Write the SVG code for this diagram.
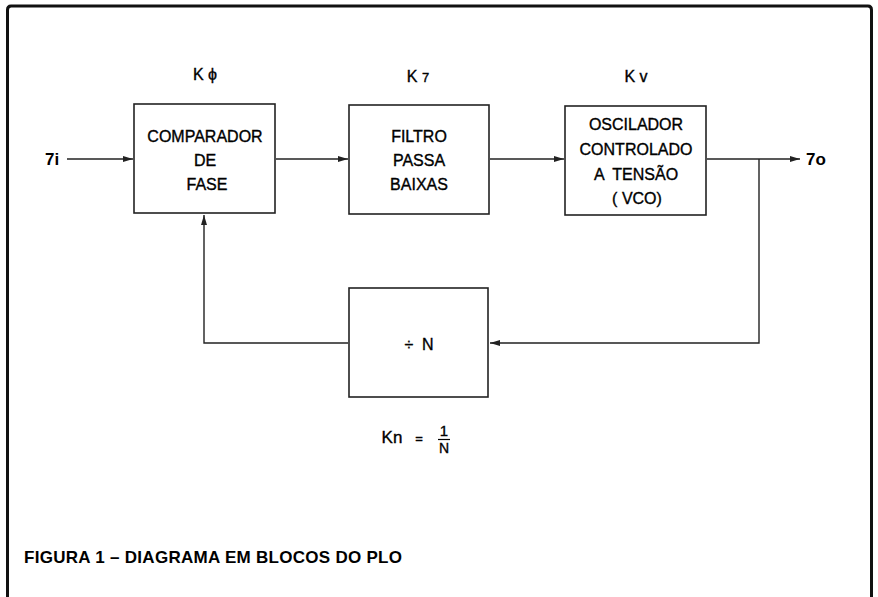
<svg xmlns="http://www.w3.org/2000/svg" width="878" height="597" viewBox="0 0 878 597">
<style>
.box{fill:#fff;stroke:#222;stroke-width:1.6}
.ln{fill:none;stroke:#222;stroke-width:1.4}
.t{font-family:"Liberation Sans",Arial,sans-serif;font-size:16px;fill:#000;stroke:#000;stroke-width:0.35;text-anchor:middle;white-space:pre}
.lb{font-family:"Liberation Sans",Arial,sans-serif;font-size:17px;font-weight:bold;fill:#000}
.cap{font-family:"Liberation Sans",Arial,sans-serif;font-size:17px;font-weight:bold;fill:#000}
</style>
<defs>
<marker id="ah" viewBox="0 0 10 6" refX="10" refY="3" markerWidth="10" markerHeight="6" markerUnits="userSpaceOnUse" orient="auto">
<path d="M0,0 L10,3 L0,6 Z" fill="#222"/>
</marker>
</defs>
<rect x="0" y="0" width="878" height="597" fill="#fff"/>
<path d="M7.5,600 L7.5,10 Q7.5,6 11,6 L868,6 Q871.5,6 871.5,10 L871.5,600" fill="none" stroke="#111" stroke-width="3"/>

<g id="connectors">
<line class="ln" x1="67" y1="159" x2="133" y2="159" marker-end="url(#ah)"/>
<line class="ln" x1="276" y1="159" x2="348" y2="159" marker-end="url(#ah)"/>
<line class="ln" x1="490" y1="159" x2="564" y2="159" marker-end="url(#ah)"/>
<line class="ln" x1="707" y1="159" x2="800" y2="159" marker-end="url(#ah)"/>
<polyline class="ln" points="759,159 759,343 490,343" marker-end="url(#ah)"/>
<polyline class="ln" points="348,343 204,343 204,215" marker-end="url(#ah)"/>
</g>

<g id="input">
<text class="lb" x="45" y="165">7i</text>
</g>
<g id="output">
<text class="lb" x="806" y="165">7o</text>
</g>

<g id="comparador">
<rect class="box" x="134" y="104" width="141" height="109"/>
<text class="t" x="205" y="80">K ϕ</text>
<text class="t" x="205" y="142">COMPARADOR</text>
<text class="t" x="205" y="166">DE</text>
<text class="t" x="207" y="190">FASE</text>
</g>

<g id="filtro">
<rect class="box" x="349" y="105" width="140" height="109"/>
<text class="t" x="418" y="82">K <tspan style="font-size:13px">7</tspan></text>
<text class="t" x="419" y="142">FILTRO</text>
<text class="t" x="419" y="166">PASSA</text>
<text class="t" x="419" y="190">BAIXAS</text>
</g>

<g id="vco">
<rect class="box" x="565" y="106" width="141" height="109"/>
<text class="t" x="636" y="82">K v</text>
<text class="t" x="636" y="130">OSCILADOR</text>
<text class="t" x="636" y="155">CONTROLADO</text>
<text class="t" x="636" y="180" xml:space="preserve">A  TENSÃO</text>
<text class="t" x="637" y="204">( VCO)</text>
</g>

<g id="divisor">
<rect class="box" x="349" y="288" width="139" height="109"/>
<text class="t" x="419" y="350" xml:space="preserve">÷  N</text>
<text class="t" x="392" y="443" style="font-size:17px">Kn</text>
<text class="t" x="419" y="443" style="font-size:13px">=</text>
<text class="t" x="444" y="436" style="font-size:15px">1</text>
<line x1="438" y1="439.5" x2="450" y2="439.5" stroke="#000" stroke-width="1.2"/>
<text class="t" x="444" y="453" style="font-size:14px">N</text>
</g>

<g id="caption">
<text class="cap" x="24" y="563" textLength="378" lengthAdjust="spacing">FIGURA 1 – DIAGRAMA EM BLOCOS DO PLO</text>
</g>
</svg>
